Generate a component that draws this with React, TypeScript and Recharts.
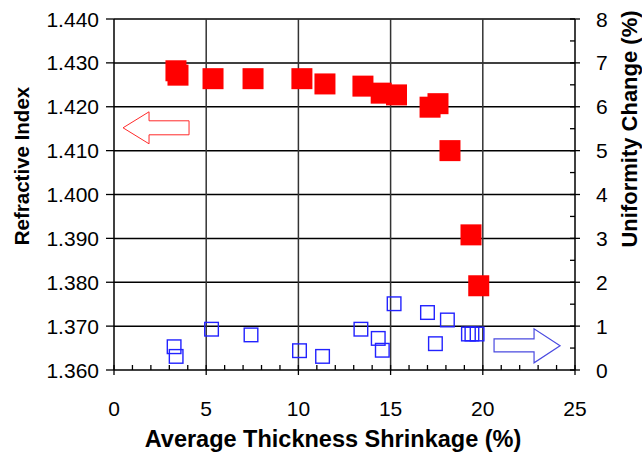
import { ScatterChart, Scatter, XAxis, YAxis, ReferenceLine, ReferenceDot } from 'recharts'

// refractive index (left axis), filled red squares
const shrinkRI = [3.36, 3.47, 5.37, 7.54, 10.19, 11.44, 13.5, 14.49, 15.32, 17.14, 17.57, 18.22, 19.36, 19.78]
const refIndex = [1.4282, 1.4272, 1.4264, 1.4264, 1.4264, 1.4252, 1.4247, 1.4231, 1.4227, 1.4199, 1.4207, 1.41, 1.3908, 1.3792]

// uniformity change (right axis), open blue squares
const shrinkU = [3.26, 3.37, 5.29, 7.43, 10.06, 11.31, 13.39, 14.33, 14.55, 15.19, 17.0, 17.43, 18.08, 19.22, 19.41, 19.69]
const uniformity = [0.53, 0.31, 0.93, 0.8, 0.44, 0.31, 0.93, 0.72, 0.45, 1.51, 1.31, 0.6, 1.14, 0.82, 0.82, 0.82]

const xTicks = Array.from({ length: 26 }, (_, i) => i)
const xGrid = [5, 10, 15, 20]
const leftTicks = [1.36, 1.37, 1.38, 1.39, 1.4, 1.41, 1.42, 1.43, 1.44]
const rightTicks = [0, 0.5, 1, 1.5, 2, 2.5, 3, 3.5, 4, 4.5, 5, 5.5, 6, 6.5, 7, 7.5, 8]

const riData = shrinkRI.map((x, i) => ({ x, y: refIndex[i] }))
const uData = shrinkU.map((x, i) => ({ x, y: uniformity[i] }))

const FONT = '"Liberation Sans", Arial, sans-serif'
const INK = '#000'

const XTick = (p: any) => {
  const v = p.payload.value
  const major = v % 5 === 0
  return (
    <g>
      <line x1={p.x} x2={p.x} y1={p.y - 5} y2={major ? p.y + 5 : p.y} stroke={INK} strokeWidth={1.3} />
      {major && (
        <text x={p.x} y={p.y + 46} textAnchor="middle" fontSize={21} fontFamily={FONT} fill={INK}>{v}</text>
      )}
    </g>
  )
}

const LeftTick = (p: any) => (
  <g>
    <line x1={p.x - 8} x2={p.x} y1={p.y} y2={p.y} stroke={INK} strokeWidth={1.3} />
    <text x={p.x - 15} y={p.y + 7.5} textAnchor="end" fontSize={21} fontFamily={FONT} fill={INK}>
      {Number(p.payload.value).toFixed(3)}
    </text>
  </g>
)

const RightTick = (p: any) => {
  const v = p.payload.value
  const major = Number.isInteger(v)
  return (
    <g>
      <line x1={p.x - 5} x2={major ? p.x + 5 : p.x} y1={p.y} y2={p.y} stroke={INK} strokeWidth={1.3} />
      {major && (
        <text x={p.x + 21} y={p.y + 7.5} textAnchor="start" fontSize={21} fontFamily={FONT} fill={INK}>{v}</text>
      )}
    </g>
  )
}

const RedSquare = (p: any) => <rect x={p.cx - 10.5} y={p.cy - 10.5} width={21} height={21} fill="#ff0000" />
const BlueSquare = (p: any) => (
  <rect x={p.cx - 6.8} y={p.cy - 6.8} width={13.6} height={13.6} fill="none" stroke="#2222ff" strokeWidth={1.4} />
)

const LeftArrow = (p: any) => {
  const { cx, cy } = p
  const pts = [
    [cx - 33, cy], [cx - 7, cy - 16], [cx - 7, cy - 7], [cx + 33, cy - 7],
    [cx + 33, cy + 7], [cx - 7, cy + 7], [cx - 7, cy + 16],
  ].map(q => q.join(',')).join(' ')
  return <polygon points={pts} fill="#fff" stroke="#ff2a2a" strokeWidth={1} />
}

const RightArrow = (p: any) => {
  const { cx, cy } = p
  const pts = [
    [cx + 33, cy], [cx + 7, cy - 17], [cx + 7, cy - 7], [cx - 33, cy - 7],
    [cx - 33, cy + 6], [cx + 7, cy + 6], [cx + 7, cy + 17],
  ].map(q => q.join(',')).join(' ')
  return <polygon points={pts} fill="#fff" stroke="#4a4ae0" strokeWidth={1.2} />
}

const titleStyle = { position: 'absolute' as const, fontWeight: 'bold', whiteSpace: 'nowrap' as const, color: INK, lineHeight: 1 }

export default function App() {
  return (
    <div style={{ position: 'absolute', left: 0, top: 0, width: 642, height: 452, background: '#fff', fontFamily: FONT }}>
      <ScatterChart width={642} height={452} margin={{ top: 19, right: 0, left: 0, bottom: 0 }}>
        <XAxis
          type="number"
          dataKey="x"
          domain={[0, 25]}
          ticks={xTicks}
          interval={0}
          height={82}
          tickSize={0}
          tickMargin={0}
          tickLine={false}
          tick={<XTick />}
          axisLine={{ stroke: INK, strokeWidth: 1.5 }}
          allowDataOverflow
        />
        <YAxis
          yAxisId="left"
          type="number"
          dataKey="y"
          domain={[1.36, 1.44]}
          ticks={leftTicks}
          interval={0}
          width={114}
          tickSize={0}
          tickMargin={0}
          tickLine={false}
          tick={<LeftTick />}
          axisLine={{ stroke: INK, strokeWidth: 1.5 }}
          allowDataOverflow
        />
        <YAxis
          yAxisId="right"
          orientation="right"
          type="number"
          dataKey="y"
          domain={[0, 8]}
          ticks={rightTicks}
          interval={0}
          width={67}
          tickSize={0}
          tickMargin={0}
          tickLine={false}
          tick={<RightTick />}
          axisLine={{ stroke: INK, strokeWidth: 1.5 }}
          allowDataOverflow
        />
        {leftTicks.slice(1).map(t => (
          <ReferenceLine key={'h' + t} yAxisId="left" y={t} stroke={INK} strokeWidth={1.5} />
        ))}
        {xGrid.map(t => (
          <ReferenceLine key={'v' + t} yAxisId="left" x={t} stroke="#333" strokeWidth={1.5} />
        ))}
        <Scatter yAxisId="right" data={uData} shape={<BlueSquare />} isAnimationActive={false} />
        <Scatter yAxisId="left" data={riData} shape={<RedSquare />} isAnimationActive={false} />
        <ReferenceDot yAxisId="left" x={2.28} y={1.4152} shape={<LeftArrow />} />
        <ReferenceDot yAxisId="right" x={22.4} y={0.55} shape={<RightArrow />} />
      </ScatterChart>
      <div style={{ ...titleStyle, left: 333, top: 440, transform: 'translate(-50%, -50%)', fontSize: 23.5 }}>
        Average Thickness Shrinkage (%)
      </div>
      <div style={{ ...titleStyle, left: 22, top: 166, transform: 'translate(-50%, -50%) rotate(-90deg)', fontSize: 20.5 }}>
        Refractive Index
      </div>
      <div style={{ ...titleStyle, left: 630, top: 129, transform: 'translate(-50%, -50%) rotate(-90deg)', fontSize: 22 }}>
        Uniformity Change (%)
      </div>
    </div>
  )
}
